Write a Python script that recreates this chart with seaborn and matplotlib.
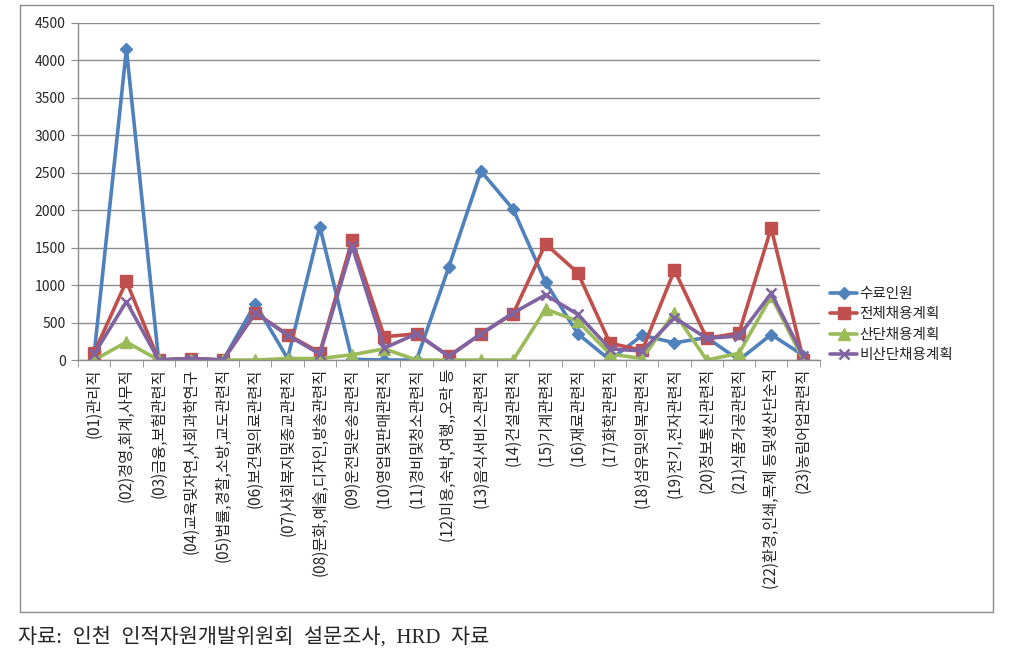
import numpy as np
import pandas as pd
import matplotlib
matplotlib.use("Agg")
import matplotlib.pyplot as plt
from matplotlib.patches import Rectangle
from matplotlib.ticker import MultipleLocator, FixedLocator
import seaborn as sns

categories = ['(01)관리직', '(02)경영,회계,사무직', '(03)금융,보험관련직',
              '(04)교육및자연,사회과학연구', '(05)법률,경찰,소방,교도관련직',
              '(06)보건및의료관련직', '(07)사회복지및종교관련직',
              '(08)문화,예술,디자인,방송관련직', '(09)운전및운송관련직',
              '(10)영업및판매관련직', '(11)경비및청소관련직',
              '(12)미용,숙박,여행,,오락 등', '(13)음식서비스관련직',
              '(14)건설관련직', '(15)기계관련직', '(16)재료관련직',
              '(17)화학관련직', '(18)섬유및의복관련직', '(19)전기,전자관련직',
              '(20)정보통신관련직', '(21)식품가공관련직',
              '(22)환경,인쇄,목제 등및생산단순직', '(23)농림어업관련직']

graduates = [80, 4150, 0, 20, 0, 750, 20, 1780, 10, 0, 0, 1240, 2520, 2010,
             1040, 350, 0, 330, 230, 300, 0, 340, 60]
total_plan = [100, 1050, 0, 20, 0, 630, 340, 100, 1600, 310, 350, 50, 350, 620,
              1550, 1165, 225, 130, 1200, 290, 360, 1760, 0]
complex_plan = [0, 240, 0, 0, 0, 0, 20, 20, 70, 150, 0, 0, 0, 0,
                680, 520, 80, 20, 630, 0, 90, 850, 0]
noncomplex_plan = [80, 780, 0, 20, 0, 630, 330, 80, 1520, 160, 350, 50, 350, 630,
                   870, 610, 150, 120, 565, 290, 320, 890, 50]

series_names = ['수료인원', '전체채용계획', '산단채용계획', '비산단채용계획']
series_values = [graduates, total_plan, complex_plan, noncomplex_plan]
colors = ['#4F81BD', '#C0504D', '#9BBB59', '#8064A2']
markers = ['D', 's', '^', 'x']
msizes = [6, 9, 8, 7]

sns.set_style("white")
plt.rcParams['font.family'] = ['Noto Sans CJK KR', 'DejaVu Sans']

fig = plt.figure(figsize=(10.27, 6.54), dpi=100)
ax = fig.add_axes([0.076, 0.4495, 0.722, 0.5155])

x = np.arange(len(categories))
for name, vals, c, m, ms in zip(series_names, series_values, colors, markers, msizes):
    df = pd.DataFrame({'x': x, 'y': vals})
    sns.lineplot(data=df, x='x', y='y', ax=ax, color=c, linewidth=2.6,
                 marker=m, markersize=ms, markeredgecolor=c,
                 markeredgewidth=1.8 if m == 'x' else 1.0, label=name)

ax.set_xlim(-0.5, len(categories) - 0.5)
ax.set_ylim(0, 4500)
ax.yaxis.set_major_locator(MultipleLocator(500))
ax.grid(axis='y', color='#8c8c8c', linewidth=1.0)
ax.set_axisbelow(True)
ax.set_xlabel('')
ax.set_ylabel('')

ax.set_xticks(x)
ax.set_xticklabels(categories, rotation=90, fontsize=11, va='top', ha='center')
ax.xaxis.set_minor_locator(FixedLocator(np.arange(-0.5, len(categories), 1)))
ax.tick_params(axis='x', which='major', length=0, pad=6)
ax.tick_params(axis='x', which='minor', length=5, color='#8c8c8c', direction='out', bottom=True)
ax.tick_params(axis='y', length=5, color='#8c8c8c', direction='out', left=True, labelsize=10, pad=4)

for s in ['top', 'right']:
    ax.spines[s].set_visible(False)
for s in ['left', 'bottom']:
    ax.spines[s].set_color('#8c8c8c')
    ax.spines[s].set_linewidth(1.0)

ax.legend(loc='center left', bbox_to_anchor=(1.0, 0.105), frameon=False,
          fontsize=10.5, handlelength=1.9, labelspacing=0.45, handletextpad=0.15,
          borderaxespad=0.3)

# outer chart border
fig.patches.append(Rectangle((20 / 1027, 1 - 612 / 654), 973 / 1027, 607 / 654,
                             transform=fig.transFigure, fill=False,
                             edgecolor='#8c8c8c', linewidth=1.0))

fig.text(18 / 1027, 1 - 637 / 654, '자료:  인천  인적자원개발위원회  설문조사,  HRD  자료',
         fontsize=15, va='center', ha='left',
         family=['Liberation Serif', 'Noto Sans CJK KR'])

fig.savefig('out.png', dpi=100)
